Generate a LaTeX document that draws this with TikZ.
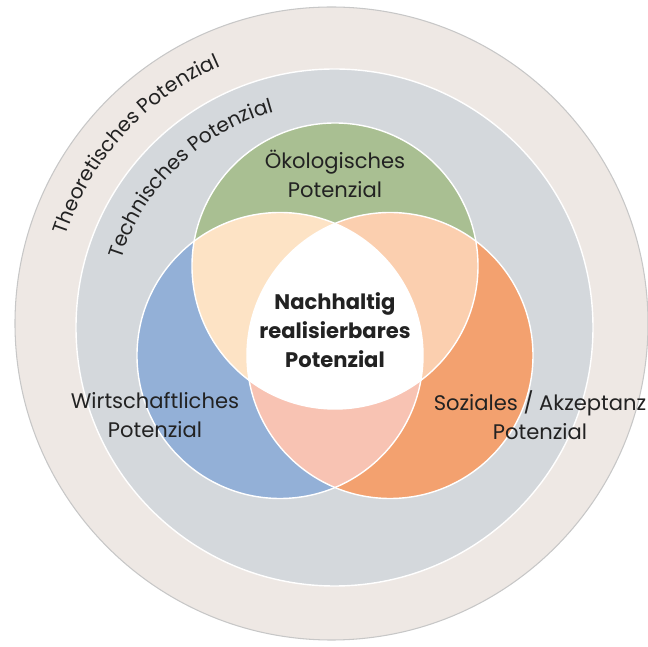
\documentclass[tikz,border=0pt]{standalone}
\usepackage{fontspec}
\setmainfont{Poppins}
\usepackage{xcolor}
\usepackage{tikz}
\usetikzlibrary{decorations.text}
\definecolor{theobg}{HTML}{EEE8E4}
\definecolor{technbg}{HTML}{D4D8DC}
\definecolor{oekogreen}{HTML}{A9BF92}
\definecolor{wirtblue}{HTML}{93B0D7}
\definecolor{sozorange}{HTML}{F3A16F}
\definecolor{oekowirt}{HTML}{FDE3C5}
\definecolor{oekosoz}{HTML}{FBCFAF}
\definecolor{wirtsoz}{HTML}{F8C3B3}
\definecolor{labeltext}{HTML}{222222}
\tikzstyle{potlabel} = [align=center, text=labeltext, font=\fontsize{12}{16.5}\selectfont]
\tikzstyle{ringtext} = [decorate, decoration={text along path, text align=center}]
\tikzstyle{venn} = [draw=white, line width=0.8pt]
\newcommand{\vennr}{2.86}
\newcommand{\ringfont}{\fontsize{11.5}{14}\selectfont\color{labeltext}}

\begin{document}
\begin{tikzpicture}
            \useasboundingbox (-6.66,-6.44) rectangle (6.30,6.50);
            \clip (-6.66,-6.44) rectangle (6.30,6.50);
            \coordinate (theo) at (-0.03,0.03);
            \coordinate (techn) at (0.03,-0.05);
            \coordinate (oeko) at (0.04,1.18);
            \coordinate (wirt) at (-1.06,-0.61);
            \coordinate (soz) at (1.14,-0.61);

            % rings
            \fill[theobg, draw=black!22, line width=0.6pt] (theo) circle[radius=6.33];
            \fill[technbg, draw=white, line width=0.8pt] (techn) circle[radius=5.17];

            % venn circles
            \fill[oekogreen] (oeko) circle[radius=\vennr];
            \fill[wirtblue] (wirt) circle[radius=\vennr];
            \fill[sozorange] (soz) circle[radius=\vennr];
            \begin{scope}
                \clip (oeko) circle[radius=\vennr];
                \fill[oekowirt] (wirt) circle[radius=\vennr];
                \fill[oekosoz] (soz) circle[radius=\vennr];
            \end{scope}
            \begin{scope}
                \clip (wirt) circle[radius=\vennr];
                \fill[wirtsoz] (soz) circle[radius=\vennr];
            \end{scope}
            \begin{scope}
                \clip (oeko) circle[radius=\vennr];
                \clip (wirt) circle[radius=\vennr];
                \fill[white] (soz) circle[radius=\vennr];
            \end{scope}
            \draw[venn] (oeko) circle[radius=\vennr];
            \draw[venn] (wirt) circle[radius=\vennr];
            \draw[venn] (soz) circle[radius=\vennr];

            % labels
            \node[potlabel] (oekolabel) at (0.04,3.02) {Ökologisches\\Potenzial};
            \node[potlabel, font=\fontsize{12}{16.5}\selectfont\bfseries] (kern) at (0.04,-0.10) {Nachhaltig\\realisierbares\\Potenzial};
            \node[potlabel] (wirtlabel) at (-3.56,-1.80) {Wirtschaftliches\\Potenzial};
            \node[potlabel] (sozlabel) at (4.14,-1.80) {Soziales / Akzeptanz\\Potenzial};

            % curved ring labels
            \path[ringtext, decoration={text={|\ringfont|Theoretisches Potenzial}}]
                ([shift={(182.5:5.6)}]theo) arc[start angle=182.5, end angle=92.5, radius=5.6];
            \path[ringtext, decoration={text={|\ringfont|Technisches Potenzial}}]
                ([shift={(179:4.48)}]techn) arc[start angle=179, end angle=89, radius=4.48];
        \end{tikzpicture}
\end{document}
